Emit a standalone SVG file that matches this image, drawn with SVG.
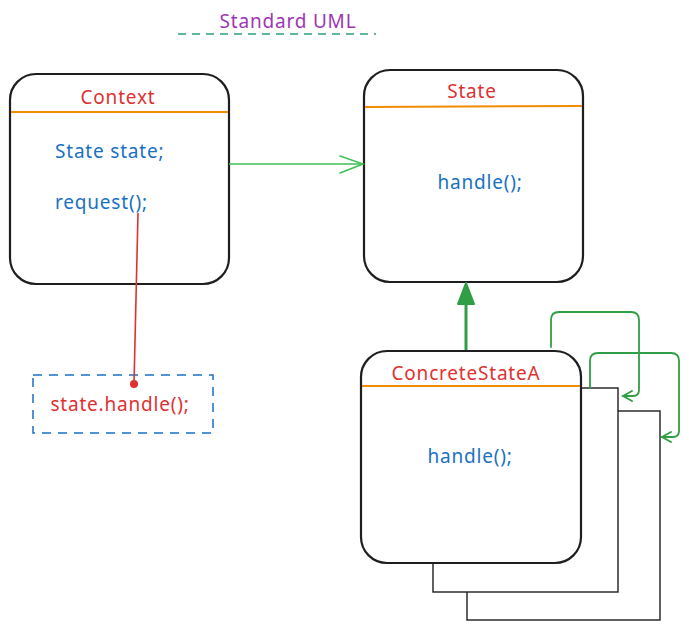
<svg xmlns="http://www.w3.org/2000/svg" width="689" height="634" viewBox="0 0 689 634">
  <style>
    text { font-family: "Noto Sans", "Liberation Sans", sans-serif; font-size: 19px; letter-spacing: 0.8px; }
    .title { fill: #e03131; text-anchor: middle; }
    .member { fill: #1971c2; }
    .center { text-anchor: middle; }
    .box { fill: #ffffff; stroke: #1e1e1e; stroke-width: 2.2; }
    .sheet { fill: #ffffff; stroke: #1e1e1e; stroke-width: 1.4; }
    .divider { stroke: #f08c00; stroke-width: 2; }
    .link { fill: none; stroke: #2f9e44; stroke-width: 1.8; stroke-linecap: round; stroke-linejoin: round; }
  </style>
  <defs>
    <marker id="open" markerWidth="12" markerHeight="12" refX="10" refY="6" orient="auto" markerUnits="userSpaceOnUse">
      <path d="M1,1 L10,6 L1,11" fill="none" stroke="#2f9e44" stroke-width="1.8" stroke-linecap="round"/>
    </marker>
  </defs>

  <!-- heading -->
  <g id="heading">
    <text x="288" y="28" style="fill:#9c36b5" class="center">Standard UML</text>
    <line x1="178" y1="34" x2="376" y2="34" stroke="#2f9e77" stroke-width="1.6" stroke-dasharray="8 6"/>
  </g>

  <!-- Context class -->
  <g id="context">
    <rect class="box" x="10" y="74" width="219" height="210" rx="26"/>
    <line class="divider" x1="11" y1="112" x2="228" y2="112"/>
    <text class="title" x="118" y="104">Context</text>
    <text class="member" x="55" y="158">State state;</text>
    <text class="member" x="55" y="209">request();</text>
  </g>

  <!-- note -->
  <g id="note">
    <rect x="33" y="375" width="180" height="58" fill="none" stroke="#1971c2" stroke-width="1.5" stroke-dasharray="9 7"/>
    <text x="120" y="411" class="center" style="fill:#e03131">state.handle();</text>
  </g>

  <!-- State class -->
  <g id="state">
    <rect class="box" x="364" y="70" width="219" height="212" rx="26"/>
    <line class="divider" x1="365" y1="107" x2="582" y2="106"/>
    <text class="title" x="472" y="98">State</text>
    <text class="member center" x="480" y="189">handle();</text>
  </g>

  <!-- ConcreteStateA with stacked sheets -->
  <g id="concrete-state-a">
    <rect class="sheet" x="467" y="411" width="193" height="209"/>
    <rect class="sheet" x="433" y="388" width="185" height="204"/>
    <rect class="box" x="361" y="351" width="220" height="212" rx="26"/>
    <line class="divider" x1="362" y1="386" x2="580" y2="386"/>
    <text class="title" x="466" y="380">ConcreteStateA</text>
    <text class="member center" x="470" y="463">handle();</text>
  </g>

  <!-- connectors -->
  <g id="connectors">
    <line x1="229" y1="164" x2="363" y2="164" stroke="#40c057" stroke-width="2" opacity="0.75"/>
    <path d="M340,156 L363,164 L340,173" fill="none" stroke="#40c057" stroke-width="1.6" stroke-linecap="round"/>
    <line x1="138" y1="213" x2="134" y2="384" stroke="#e03131" stroke-width="1.6"/>
    <circle cx="134" cy="384" r="4" fill="#e03131"/>
    <line x1="466" y1="350" x2="466" y2="300" stroke="#2f9e44" stroke-width="3"/>
    <path d="M466,283 L474,304 L458,304 Z" fill="#2f9e44" stroke="#2f9e44" stroke-width="2" stroke-linejoin="round"/>
    <path class="link" d="M551,347 L551,320 Q551,312 559,312 L631,312 Q639,312 639,320 L639,390 Q639,396 633,396 L623,396" marker-end="url(#open)"/>
    <path class="link" d="M590,388 L590,361 Q590,353 598,353 L671,353 Q679,353 679,361 L679,431 Q679,437 673,437 L662,437" marker-end="url(#open)"/>
  </g>
</svg>
